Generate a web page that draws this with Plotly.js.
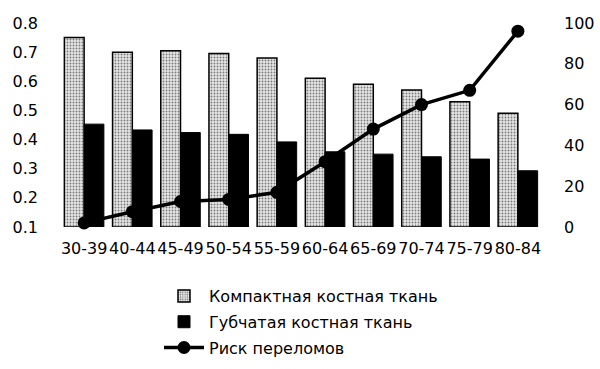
<!DOCTYPE html>
<html>
<head>
<meta charset="utf-8">
<script src="https://cdn.plot.ly/plotly-3.0.1.min.js"></script>
<style>html,body{margin:0;padding:0;background:#fff;}#chart{width:600px;height:369px;}</style>
</head>
<body>
<div id="chart"></div>
<script>
const categories = ["30-39","40-44","45-49","50-54","55-59","60-64","65-69","70-74","75-79","80-84"];
const compactBone = [0.75,0.70,0.705,0.695,0.68,0.61,0.59,0.57,0.53,0.49];
const spongyBone = [0.453,0.433,0.424,0.418,0.392,0.358,0.35,0.341,0.333,0.293];
const fractureRisk = [2,7.5,12.5,13.5,17,32,48,60,67,96];
const seriesNames = ["Компактная костная ткань","Губчатая костная ткань","Риск переломов"];
const leftTicks = [0.1,0.2,0.3,0.4,0.5,0.6,0.7,0.8];
const rightTicks = [0,20,40,60,80,100];

const FONT = "DejaVu Sans";
const baseVal = leftTicks[0];

const traces = [
  {
    type: "bar", name: seriesNames[0], legendgroup: "a", x: categories, y: compactBone.map(v => v - baseVal), base: baseVal,
    marker: {color: "#d6d6d6", line: {color: "#000", width: 1.5},
      pattern: {shape: ".", fgcolor: "#7a7a7a", bgcolor: "#e6e6e6", size: 3, solidity: 0.3}},
    hoverinfo: "skip"
  },
  {
    type: "bar", name: seriesNames[1], legendgroup: "b", x: categories, y: spongyBone.map(v => v - baseVal), base: baseVal,
    marker: {color: "#000", line: {color: "#000", width: 1}},
    hoverinfo: "skip"
  },
  {
    type: "scatter", mode: "lines+markers", name: seriesNames[2], legendgroup: "c", x: categories, y: fractureRisk,
    yaxis: "y2", cliponaxis: false,
    line: {color: "#000", width: 3.5},
    marker: {color: "#000", size: 13, symbol: "circle"},
    hoverinfo: "skip"
  }
];

const layout = {
  width: 600, height: 369,
  margin: {l: 51, r: 49, t: 23, b: 142, autoexpand: false},
  paper_bgcolor: "#fff", plot_bgcolor: "#fff",
  barmode: "group", bargap: 0.18, bargroupgap: 0,
  font: {family: FONT, size: 16, color: "#000"},
  showlegend: true,
  legend: {x: 0.216, y: -0.255, xanchor: "left", yanchor: "top", orientation: "v",
    font: {family: FONT, size: 16, color: "#000"}, traceorder: "grouped",
    itemwidth: 40, tracegroupgap: 2, bgcolor: "rgba(0,0,0,0)"},
  xaxis: {type: "category", showgrid: false, zeroline: false, showline: false, ticks: "",
    tickangle: 0, automargin: false,
    tickfont: {family: FONT, size: 16}, ticklabelstandoff: 10, fixedrange: true},
  yaxis: {range: [leftTicks[0], leftTicks[leftTicks.length-1]], tickvals: leftTicks,
    ticktext: leftTicks.map(v => v.toFixed(1)), automargin: false,
    showgrid: false, zeroline: false, showline: false, ticks: "",
    tickfont: {family: FONT, size: 16}, ticklabelstandoff: 12},
  yaxis2: {range: [rightTicks[0], rightTicks[rightTicks.length-1]], tickvals: rightTicks,
    overlaying: "y", side: "right", automargin: false,
    showgrid: false, zeroline: false, showline: false, ticks: "",
    tickfont: {family: FONT, size: 16}, ticklabelstandoff: 12}
};

Plotly.newPlot("chart", traces, layout, {staticPlot: true, displayModeBar: false});
</script>
</body>
</html>
